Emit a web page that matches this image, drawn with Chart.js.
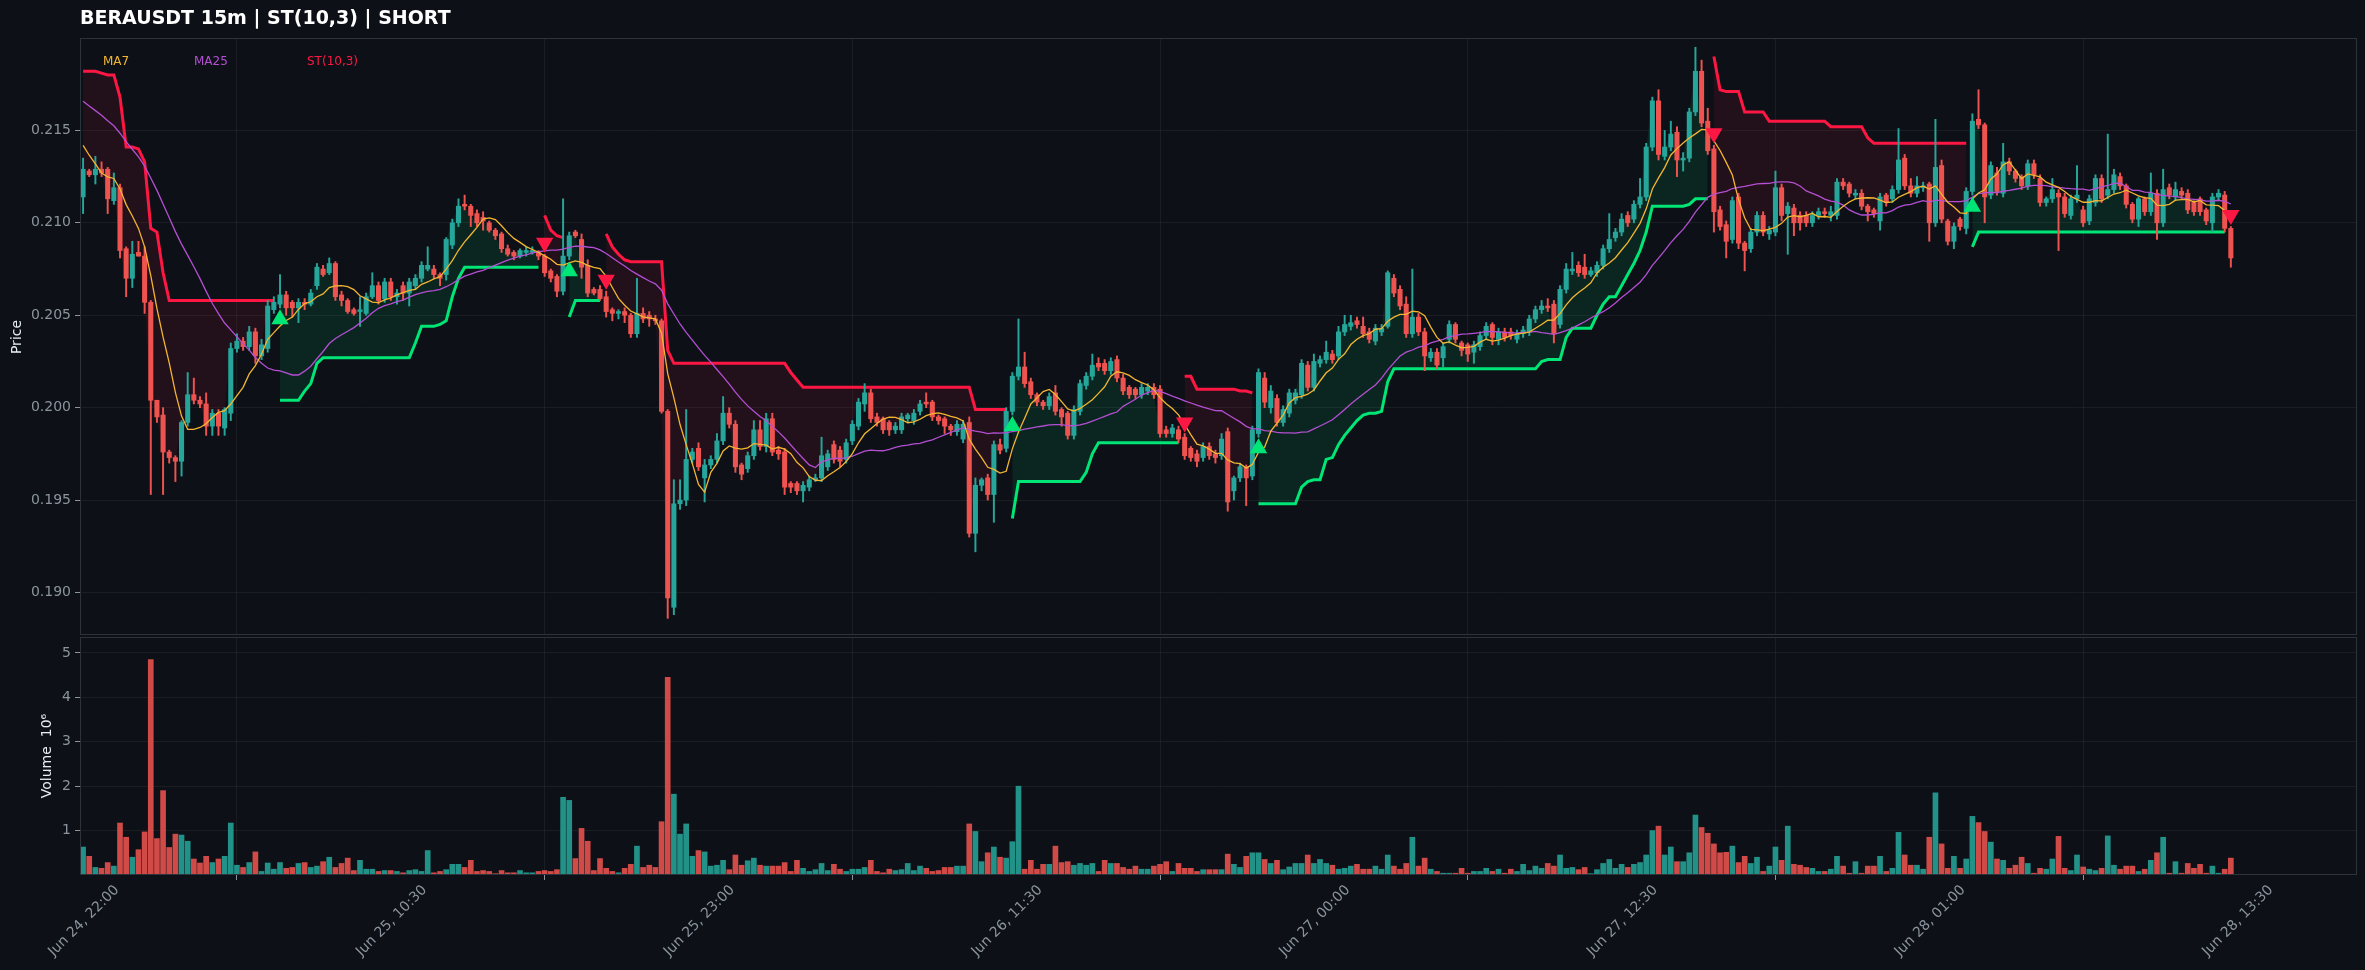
<!DOCTYPE html>
<html>
<head>
<meta charset="utf-8">
<script src="https://cdn.jsdelivr.net/npm/chart.js@4.4.0/dist/chart.umd.min.js"></script>
<style>
  html, body { margin: 0; padding: 0; background: #0d1117; }
  #wrap { position: relative; width: 2365px; height: 970px; background: #0d1117; }
  #priceChart { position: absolute; left: 0; top: 0; }
  #volChart { position: absolute; left: 0; top: 636px; }
</style>
</head>
<body>
<div id="wrap">
  <canvas id="priceChart" width="2365" height="636"></canvas>
  <canvas id="volChart" width="2365" height="334"></canvas>
</div>
<script>
// BERAUSDT 15m candles, Jun 24 22:00 -> Jun 28 13:15 (350 bars)
// prices are written in units of 0.0001 USDT
const xTickLabels = ["Jun 24, 22:00", "Jun 25, 10:30", "Jun 25, 23:00", "Jun 26, 11:30",
                     "Jun 27, 00:00", "Jun 27, 12:30", "Jun 28, 01:00", "Jun 28, 13:30"];
const xTickStep = 50;
const priceTicks = [0.190, 0.195, 0.200, 0.205, 0.210, 0.215];
const volumeTicks = [1, 2, 3, 4, 5];

const openRaw = [
  2114,2128,2126,2129,2129,2112,2119,2086,2070,2084, 2082,2057,2004,1996,1976,1973,1971,1992,2007,2004,
  2002,1990,1997,1989,1997,2032,2036,2033,2041,2028, 2032,2053,2056,2061,2057,2054,2057,2056,2066,2075,
  2073,2078,2061,2058,2053,2052,2051,2060,2066,2059, 2068,2060,2066,2062,2066,2070,2075,2075,2072,2072,
  2088,2100,2110,2109,2105,2103,2100,2096,2094,2086, 2084,2082,2084,2084,2084,2082,2074,2071,2063,2082,
  2095,2091,2077,2064,2064,2060,2053,2051,2052,2050, 2040,2051,2050,2048,2047,1998,1892,1948,1950,1972,
  1978,1962,1969,1972,1982,1997,1991,1969,1967,1974, 1988,1979,1994,1977,1976,1959,1959,1955,1957,1961,
  1962,1968,1980,1977,1972,1982,1990,2002,2008,1995, 1994,1992,1988,1988,1994,1993,1998,2003,2003,1995,
  1994,1990,1987,1983,1992,1932,1958,1962,1953,1980, 1978,1998,2017,2022,2014,2007,2003,2001,2008,1999,
  1997,1985,1998,2012,2017,2024,2024,2020,2026,2016, 2011,2010,2007,2009,2011,2010,1988,1986,1988,1984,
  1978,1975,1973,1979,1975,1974,1987,1955,1962,1968, 1963,1986,2016,2000,2005,1992,1997,2004,2007,2023,
  2011,2024,2026,2029,2028,2041,2044,2047,2044,2041, 2036,2041,2044,2070,2064,2056,2040,2049,2041,2027,
  2030,2027,2037,2045,2035,2034,2030,2033,2039,2045, 2037,2041,2041,2037,2040,2041,2048,2053,2055,2056,
  2045,2064,2074,2077,2076,2072,2073,2077,2086,2092, 2095,2104,2102,2110,2114,2141,2166,2136,2141,2149,
  2134,2135,2160,2182,2155,2140,2107,2099,2091,2114, 2089,2086,2095,2104,2094,2095,2119,2105,2108,2104,
  2104,2100,2104,2106,2104,2104,2122,2121,2115,2116, 2109,2107,2101,2115,2113,2118,2135,2120,2116,2119,
  2121,2100,2131,2101,2090,2102,2097,2117,2156,2153, 2115,2127,2116,2133,2128,2125,2120,2132,2124,2111,
  2113,2116,2114,2104,2113,2107,2101,2111,2124,2115, 2118,2125,2120,2110,2102,2113,2106,2116,2100,2119,
  2114,2117,2116,2111,2113,2107,2100,2114,2115,2097
];
const highRaw = [
  2135,2129,2136,2133,2130,2127,2121,2087,2090,2090, 2087,2058,2004,2000,1977,1974,1993,2019,2016,2006,
  2008,1999,1999,2000,2035,2040,2038,2044,2043,2037, 2058,2060,2072,2063,2058,2059,2059,2064,2078,2077,
  2081,2079,2063,2059,2054,2060,2062,2073,2068,2070, 2070,2064,2068,2070,2072,2079,2087,2077,2073,2092,
  2102,2113,2115,2110,2107,2106,2101,2097,2095,2088, 2085,2086,2087,2087,2085,2083,2075,2072,2113,2095,
  2096,2094,2080,2065,2066,2063,2054,2053,2054,2051, 2070,2054,2052,2050,2048,1999,1961,1961,1999,1978,
  1981,1972,1974,1986,2006,2000,1993,1970,1976,1993, 1993,1997,1997,1979,1978,1960,1960,1960,1963,1964,
  1984,1977,1982,1979,1983,1993,2005,2013,2010,1997, 1995,1993,1992,1997,1997,1999,2004,2008,2004,1996,
  1995,1991,1993,1993,1995,1962,1962,1964,1982,1983, 2000,2019,2048,2030,2016,2008,2004,2008,2012,2000,
  1998,2001,2015,2019,2029,2027,2026,2027,2028,2018, 2012,2011,2013,2013,2013,2012,1990,1991,1990,1986,
  1979,1977,1981,1981,1977,1986,1989,1963,1970,1969, 1990,2021,2019,2012,2007,2001,2010,2010,2026,2025,
  2029,2028,2036,2031,2044,2050,2050,2049,2049,2043, 2045,2045,2074,2072,2066,2060,2075,2051,2043,2032,
  2032,2035,2047,2046,2036,2035,2036,2041,2046,2046, 2043,2043,2043,2042,2044,2050,2055,2058,2059,2058,
  2066,2078,2084,2079,2083,2076,2079,2088,2105,2097, 2105,2106,2112,2124,2143,2168,2172,2150,2155,2152,
  2138,2162,2195,2188,2162,2142,2109,2101,2114,2116, 2090,2097,2106,2106,2098,2128,2121,2111,2110,2106,
  2106,2106,2108,2108,2109,2124,2124,2122,2118,2118, 2110,2108,2116,2116,2120,2151,2137,2124,2125,2122,
  2122,2156,2134,2102,2100,2103,2119,2159,2172,2154, 2133,2130,2143,2135,2129,2126,2134,2134,2126,2114,
  2124,2118,2116,2115,2131,2109,2115,2126,2126,2148, 2129,2127,2121,2111,2114,2114,2127,2118,2129,2121,
  2122,2119,2118,2112,2114,2108,2116,2118,2117,2098
];
const lowRaw = [
  2105,2125,2121,2125,2105,2110,2081,2060,2065,2082, 2051,1953,1992,1953,1970,1960,1963,1990,2002,2000,
  1985,1985,1985,1985,1993,2030,2031,2031,2024,2026, 2030,2051,2054,2050,2049,2046,2053,2055,2064,2071,
  2072,2058,2055,2051,2050,2044,2050,2059,2056,2057, 2058,2056,2058,2055,2064,2068,2074,2070,2066,2069,
  2086,2098,2107,2098,2098,2096,2095,2091,2084,2082, 2080,2081,2082,2083,2080,2071,2068,2060,2061,2080,
  2092,2070,2060,2061,2058,2049,2047,2048,2046,2038, 2038,2046,2044,2045,1997,1886,1888,1945,1947,1970,
  1966,1949,1967,1970,1980,1989,1965,1961,1965,1972, 1977,1976,1974,1972,1953,1954,1953,1949,1955,1960,
  1960,1966,1970,1968,1970,1980,1988,1998,1992,1990, 1986,1985,1986,1986,1992,1991,1996,2000,1993,1991,
  1986,1985,1985,1981,1930,1922,1955,1950,1938,1975, 1976,1996,2015,2011,2005,2001,1999,1999,1996,1990,
  1983,1983,1996,2010,2015,2020,2018,2018,2014,2007, 2005,2005,2005,2007,2005,1984,1984,1984,1981,1972,
  1971,1968,1971,1972,1970,1972,1944,1950,1960,1947, 1961,1984,2000,1997,1990,1990,1995,2002,2005,2009,
  2009,2022,2024,2024,2026,2039,2042,2043,2038,2035, 2034,2039,2043,2060,2053,2038,2038,2039,2020,2025,
  2021,2022,2035,2035,2028,2025,2024,2031,2037,2034, 2034,2036,2037,2035,2038,2039,2046,2051,2052,2035,
  2043,2062,2072,2071,2070,2071,2071,2075,2084,2090, 2093,2098,2100,2108,2112,2139,2134,2134,2139,2125,
  2128,2133,2158,2152,2137,2095,2096,2081,2089,2086, 2074,2084,2093,2093,2091,2093,2101,2083,2093,2096,
  2098,2098,2102,2103,2101,2102,2118,2114,2113,2107, 2101,2103,2096,2109,2111,2116,2118,2114,2114,2117,
  2090,2098,2100,2088,2086,2096,2094,2115,2151,2100, 2113,2115,2114,2126,2122,2118,2118,2124,2109,2109,
  2111,2085,2103,2102,2111,2098,2099,2109,2111,2113, 2116,2118,2108,2100,2098,2104,2104,2091,2098,2113,
  2112,2113,2105,2104,2104,2099,2095,2112,2095,2076
];
const closeRaw = [
  2129,2126,2129,2127,2113,2119,2085,2070,2083,2082, 2057,2004,1995,1976,1973,1971,1992,2007,2004,2002,
  1990,1997,1990,1999,2032,2036,2033,2041,2028,2034, 2055,2057,2061,2054,2054,2057,2056,2062,2076,2072,
  2078,2060,2058,2052,2051,2053,2060,2066,2058,2068, 2060,2062,2062,2068,2070,2077,2077,2072,2070,2091,
  2100,2109,2109,2104,2100,2101,2096,2093,2086,2083, 2082,2085,2085,2085,2082,2073,2070,2063,2082,2093,
  2093,2076,2062,2062,2059,2052,2051,2052,2050,2040, 2051,2048,2048,2047,1998,1897,1948,1950,1972,1976,
  1968,1969,1972,1982,1997,1991,1968,1964,1974,1988, 1979,1994,1976,1975,1957,1957,1955,1958,1961,1962,
  1974,1975,1972,1971,1981,1991,2003,2008,1994,1992, 1988,1988,1990,1995,1996,1997,2002,2002,1995,1993,
  1990,1988,1991,1991,1932,1958,1961,1953,1980,1977, 1998,2017,2022,2013,2007,2003,2001,2006,1998,1995,
  1985,1999,2013,2017,2023,2022,2020,2025,2016,2009, 2007,2007,2011,2011,2007,1986,1986,1989,1983,1974,
  1973,1971,1979,1974,1973,1983,1949,1962,1968,1962, 1988,2019,2003,2009,1992,1999,2008,2008,2024,2011,
  2025,2026,2030,2026,2041,2045,2046,2045,2040,2037, 2043,2043,2073,2062,2055,2040,2049,2041,2028,2030,
  2023,2033,2045,2037,2031,2029,2034,2039,2044,2038, 2041,2038,2039,2040,2042,2048,2053,2055,2054,2040,
  2064,2075,2075,2073,2072,2074,2077,2086,2091,2095, 2102,2100,2110,2114,2141,2166,2137,2141,2148,2134,
  2135,2160,2182,2154,2139,2106,2098,2090,2112,2089, 2085,2095,2104,2095,2096,2119,2104,2109,2100,2100,
  2100,2104,2106,2105,2106,2122,2120,2116,2116,2109, 2106,2105,2114,2111,2118,2134,2120,2116,2120,2120,
  2100,2130,2102,2090,2098,2098,2117,2155,2153,2114, 2131,2117,2133,2128,2124,2120,2132,2126,2111,2113,
  2118,2114,2105,2113,2115,2100,2113,2124,2113,2118, 2126,2120,2110,2102,2113,2106,2116,2100,2118,2115,
  2118,2115,2107,2106,2106,2101,2114,2116,2097,2081
];
// volume, millions
const volumes = [
  0.63,0.42,0.17,0.15,0.28,0.2,1.17,0.85,0.4,0.57, 0.97,4.85,0.82,1.9,0.62,0.92,0.9,0.76,0.36,0.27,
  0.42,0.28,0.36,0.42,1.17,0.22,0.17,0.28,0.52,0.08, 0.27,0.13,0.28,0.15,0.17,0.26,0.28,0.17,0.2,0.3,
  0.4,0.17,0.26,0.38,0.1,0.33,0.13,0.13,0.08,0.1, 0.1,0.08,0.05,0.1,0.12,0.08,0.55,0.05,0.08,0.12,
  0.24,0.24,0.17,0.33,0.08,0.1,0.08,0.03,0.1,0.05, 0.05,0.1,0.05,0.05,0.08,0.1,0.08,0.12,1.75,1.68,
  0.37,1.05,0.76,0.1,0.37,0.15,0.08,0.05,0.15,0.24, 0.65,0.17,0.22,0.17,1.2,4.45,1.82,0.92,1.15,0.42,
  0.55,0.52,0.2,0.22,0.33,0.12,0.45,0.22,0.32,0.38, 0.22,0.2,0.2,0.2,0.28,0.08,0.33,0.15,0.08,0.12,
  0.26,0.1,0.24,0.13,0.08,0.13,0.13,0.17,0.33,0.08, 0.05,0.13,0.1,0.12,0.26,0.1,0.2,0.15,0.08,0.1,
  0.17,0.17,0.2,0.2,1.15,0.98,0.3,0.5,0.63,0.4, 0.38,0.75,2.0,0.13,0.33,0.13,0.24,0.24,0.65,0.28,
  0.3,0.22,0.26,0.22,0.26,0.08,0.33,0.26,0.26,0.17, 0.13,0.2,0.13,0.13,0.2,0.24,0.3,0.08,0.26,0.15,
  0.15,0.08,0.12,0.12,0.12,0.12,0.47,0.24,0.17,0.42, 0.5,0.5,0.35,0.26,0.33,0.12,0.18,0.26,0.26,0.45,
  0.26,0.35,0.26,0.22,0.13,0.15,0.2,0.24,0.13,0.13, 0.2,0.13,0.45,0.2,0.13,0.26,0.85,0.2,0.38,0.13,
  0.08,0.04,0.04,0.04,0.15,0.04,0.08,0.08,0.15,0.08, 0.13,0.04,0.13,0.08,0.24,0.1,0.2,0.15,0.26,0.2,
  0.45,0.15,0.17,0.12,0.17,0.03,0.12,0.26,0.35,0.15, 0.24,0.17,0.24,0.28,0.45,1.0,1.1,0.45,0.63,0.3,
  0.3,0.5,1.35,1.07,0.94,0.7,0.5,0.51,0.65,0.28, 0.42,0.26,0.4,0.08,0.2,0.63,0.33,1.1,0.24,0.22,
  0.17,0.15,0.08,0.08,0.13,0.42,0.2,0.04,0.3,0.04, 0.2,0.2,0.42,0.08,0.15,0.96,0.45,0.22,0.22,0.13,
  0.85,1.85,0.7,0.15,0.42,0.15,0.36,1.32,1.18,0.98, 0.74,0.36,0.33,0.15,0.22,0.4,0.26,0.04,0.15,0.13,
  0.36,0.87,0.15,0.1,0.45,0.18,0.13,0.1,0.15,0.88, 0.22,0.13,0.2,0.2,0.08,0.13,0.33,0.5,0.85,0.04,
  0.3,0.04,0.26,0.15,0.24,0.04,0.2,0.04,0.13,0.38
];
// SuperTrend(10,3) level per bar (same 0.0001 units)
const stRaw = [
  2182,2182,2182,2181,2180,2180,2168,2141,2141,2140, 2133,2097,2095,2073,2058,2058,2058,2058,2058,2058,
  2058,2058,2058,2058,2058,2058,2058,2058,2058,2058, 2058,2058,2004,2004,2004,2004,2009,2013,2024,2027,
  2027,2027,2027,2027,2027,2027,2027,2027,2027,2027, 2027,2027,2027,2027,2035,2044,2044,2044,2045,2047,
  2060,2070,2076,2076,2076,2076,2076,2076,2076,2076, 2076,2076,2076,2076,2076,2104,2096,2093,2092,2049,
  2058,2058,2058,2058,2058,2094,2087,2083,2080,2079, 2079,2079,2079,2079,2079,2031,2024,2024,2024,2024,
  2024,2024,2024,2024,2024,2024,2024,2024,2024,2024, 2024,2024,2024,2024,2024,2019,2015,2011,2011,2011,
  2011,2011,2011,2011,2011,2011,2011,2011,2011,2011, 2011,2011,2011,2011,2011,2011,2011,2011,2011,2011,
  2011,2011,2011,2011,2011,1999,1999,1999,1999,1999, 1999,1940,1960,1960,1960,1960,1960,1960,1960,1960,
  1960,1960,1960,1965,1975,1981,1981,1981,1981,1981, 1981,1981,1981,1981,1981,1981,1981,1981,1981,2017,
  2017,2010,2010,2010,2010,2010,2010,2010,2009,2009, 2008,1948,1948,1948,1948,1948,1948,1948,1957,1960,
  1961,1961,1972,1973,1980,1985,1989,1993,1996,1997, 1997,1998,2014,2021,2021,2021,2021,2021,2021,2021,
  2021,2021,2021,2021,2021,2021,2021,2021,2021,2021, 2021,2021,2021,2021,2021,2021,2021,2025,2026,2026,
  2026,2038,2043,2043,2043,2043,2050,2056,2060,2060, 2066,2072,2078,2085,2095,2109,2109,2109,2109,2109,
  2109,2110,2113,2113,2113,2190,2172,2171,2171,2171, 2160,2160,2160,2160,2155,2155,2155,2155,2155,2155,
  2155,2155,2155,2155,2152,2152,2152,2152,2152,2152, 2146,2143,2143,2143,2143,2143,2143,2143,2143,2143,
  2143,2143,2143,2143,2143,2143,2143,2087,2095,2095, 2095,2095,2095,2095,2095,2095,2095,2095,2095,2095,
  2095,2095,2095,2095,2095,2095,2095,2095,2095,2095, 2095,2095,2095,2095,2095,2095,2095,2095,2095,2095,
  2095,2095,2095,2095,2095,2095,2095,2095,2095,2120
];
// bars where the SuperTrend flips (the triangle markers)
const buyBars = [32, 79, 151, 191, 307];
const sellBars = [75, 85, 179, 265, 349];
// closes before the first bar, back-read from where MA7 / MA25 enter the frame
const closesBeforeRaw = [2192,2190,2189,2188,2187,2186,2185,2185,2184,2183,
                         2165,2162,2160,2158,2160,2161,2160,2157,2163,2162,2161,2128,2125,2125];

const P = 10000;
const opens = openRaw.map(v => v / P);
const highs = highRaw.map(v => v / P);
const lows = lowRaw.map(v => v / P);
const closes = closeRaw.map(v => v / P);
const stLevels = stRaw.map(v => v / P);
const closesBefore = closesBeforeRaw.map(v => v / P);

const UP = "#26a69a", DOWN = "#ef5350";
const ST_RED = "#ff1744", ST_GREEN = "#00e676";
const MA7_COLOR = "#f2b632", MA25_COLOR = "#b44fd3";
const GRID = "rgba(255,255,255,0.055)";
const TICK_TEXT = "#8b949e";
const SPINE = "#2d333b";
const FONT = "'DejaVu Sans', sans-serif";

const n = closes.length;

function sma(period) {
  const all = closesBefore.concat(closes);
  const off = closesBefore.length;
  return closes.map((_, i) => {
    const end = i + off;
    const start = Math.max(0, end - period + 1);
    let s = 0;
    for (let k = start; k <= end; k++) s += all[k];
    return s / (end - start + 1);
  });
}

const ma7 = sma(7);
const ma25 = sma(25);

// trend direction per bar from the flip bars (starts short)
const trend = [];
for (let i = 0, d = -1; i < n; i++) {
  if (buyBars.includes(i)) d = 1;
  if (sellBars.includes(i)) d = -1;
  trend.push(d);
}

const pts = arr => arr.map((v, i) => ({ x: i, y: v }));
const candleColors = closes.map((c, i) => (c >= opens[i] ? UP : DOWN));

const stLong = trend.map((d, i) => ({ x: i, y: d === 1 ? stLevels[i] : null }));
const stShort = trend.map((d, i) => ({ x: i, y: d === -1 ? stLevels[i] : null }));
const buys = buyBars.map(i => ({ x: i, y: lows[i] * 0.997 }));
const sells = sellBars.map(i => ({ x: i, y: highs[i] * 1.003 }));

const xRange = { min: -0.5, max: 369.5 };
function setXTicks(scale) {
  scale.ticks = xTickLabels.map((_, k) => ({ value: k * xTickStep }));
}
// tick labels must not push the plot area inwards
function noLabelPadding(scale) {
  scale.paddingTop = 0;
  scale.paddingBottom = 0;
  scale.paddingLeft = 0;
  scale.paddingRight = 0;
}

// frame around the plot area + free text
function framePlugin(texts) {
  return {
    id: "frame",
    afterDraw(chart) {
      const { ctx, chartArea: a } = chart;
      ctx.save();
      ctx.strokeStyle = SPINE;
      ctx.lineWidth = 1;
      ctx.strokeRect(a.left + 0.5, a.top + 0.5, a.right - a.left - 1, a.bottom - a.top - 1);
      texts.forEach(t => {
        ctx.save();
        ctx.font = t.font;
        ctx.fillStyle = t.color;
        ctx.textAlign = t.align || "left";
        ctx.textBaseline = "middle";
        ctx.translate(t.x, t.y);
        if (t.rotate) ctx.rotate(t.rotate);
        ctx.fillText(t.text, 0, 0);
        ctx.restore();
      });
      ctx.restore();
    }
  };
}

Chart.defaults.font.family = FONT;
Chart.defaults.animation = false;

new Chart(document.getElementById("priceChart"), {
  type: "bar",
  data: {
    datasets: [
      { type: "line", label: "close", data: pts(closes), borderWidth: 0, borderColor: "transparent",
        pointRadius: 0, fill: false, order: 20 },
      { type: "line", label: "ST short", data: stShort, borderColor: ST_RED, borderWidth: 3,
        pointRadius: 0, spanGaps: false, order: 9,
        fill: { target: 0, above: "rgba(255,23,68,0.09)", below: "rgba(255,23,68,0.09)" } },
      { type: "line", label: "ST long", data: stLong, borderColor: ST_GREEN, borderWidth: 3,
        pointRadius: 0, spanGaps: false, order: 9,
        fill: { target: 0, above: "rgba(0,230,118,0.1)", below: "rgba(0,230,118,0.1)" } },
      { label: "wick", data: closes.map((_, i) => ({ x: i, y: [lows[i], highs[i]] })),
        backgroundColor: candleColors, barThickness: 1.3, grouped: false, order: 7 },
      { label: "body", data: closes.map((c, i) => ({ x: i, y: [Math.min(opens[i], c), Math.max(opens[i], c)] })),
        backgroundColor: candleColors, barThickness: 4.4, minBarLength: 1.5, grouped: false, order: 6 },
      { type: "line", label: "MA25", data: pts(ma25), borderColor: MA25_COLOR, borderWidth: 1.3,
        pointRadius: 0, fill: false, order: 5 },
      { type: "line", label: "MA7", data: pts(ma7), borderColor: MA7_COLOR, borderWidth: 1.3,
        pointRadius: 0, fill: false, order: 4 },
      { type: "line", label: "sell", data: sells, showLine: false, pointStyle: "triangle",
        pointRotation: 180, pointRadius: 10, backgroundColor: ST_RED, borderWidth: 0, order: 1 },
      { type: "line", label: "buy", data: buys, showLine: false, pointStyle: "triangle",
        pointRadius: 10, backgroundColor: ST_GREEN, borderWidth: 0, order: 1 }
    ]
  },
  options: {
    responsive: false,
    devicePixelRatio: 1,
    layout: { autoPadding: false, padding: { top: 38, right: 8, left: 0, bottom: 1 } },
    plugins: { legend: { display: false }, tooltip: { enabled: false } },
    scales: {
      x: {
        type: "linear", min: xRange.min, max: xRange.max, offset: false,
        afterBuildTicks: setXTicks,
        ticks: { display: false },
        grid: { color: GRID, drawTicks: false },
        border: { display: false },
        afterFit: s => { s.height = 0; noLabelPadding(s); }
      },
      y: {
        min: 0.1877, max: 0.2200,
        afterBuildTicks: s => { s.ticks = priceTicks.map(v => ({ value: v })); },
        ticks: { color: TICK_TEXT, font: { size: 14 }, padding: 4, callback: v => v.toFixed(3) },
        grid: { color: GRID, tickColor: TICK_TEXT, tickLength: 5 },
        border: { display: false },
        afterFit: s => { s.width = 80; noLabelPadding(s); }
      }
    }
  },
  plugins: [framePlugin([
    { text: "BERAUSDT 15m | ST(10,3) | SHORT", x: 80, y: 19, font: "bold 19px " + FONT, color: "#ffffff" },
    { text: "MA7", x: 103, y: 62, font: "12px " + FONT, color: MA7_COLOR },
    { text: "MA25", x: 194, y: 62, font: "12px " + FONT, color: MA25_COLOR },
    { text: "ST(10,3)", x: 307, y: 62, font: "12px " + FONT, color: ST_RED },
    { text: "Price", x: 17, y: 337, font: "14px " + FONT, color: "#e6edf3", align: "center", rotate: -Math.PI / 2 }
  ])]
});

new Chart(document.getElementById("volChart"), {
  type: "bar",
  data: {
    datasets: [
      { label: "Volume", data: volumes.map((v, i) => ({ x: i, y: v })),
        backgroundColor: candleColors.map(c => c + "dd"), barThickness: 5, grouped: false }
    ]
  },
  options: {
    responsive: false,
    devicePixelRatio: 1,
    layout: { autoPadding: false, padding: { top: 1, right: 8, left: 0, bottom: 0 } },
    plugins: { legend: { display: false }, tooltip: { enabled: false } },
    scales: {
      x: {
        type: "linear", min: xRange.min, max: xRange.max, offset: false,
        afterBuildTicks: setXTicks,
        ticks: { color: TICK_TEXT, font: { size: 14 }, minRotation: 45, maxRotation: 45, autoSkip: false,
                 labelOffset: 34, padding: 2,
                 callback: v => xTickLabels[Math.round(v / xTickStep)] },
        grid: { color: GRID, tickColor: TICK_TEXT, tickLength: 5 },
        border: { display: false },
        afterFit: s => { s.height = 95; noLabelPadding(s); }
      },
      y: {
        min: 0, max: 5.36,
        afterBuildTicks: s => { s.ticks = volumeTicks.map(v => ({ value: v })); },
        ticks: { color: TICK_TEXT, font: { size: 14 }, padding: 4, callback: v => String(v) },
        grid: { color: GRID, tickColor: TICK_TEXT, tickLength: 5 },
        border: { display: false },
        afterFit: s => { s.width = 80; noLabelPadding(s); }
      }
    }
  },
  plugins: [framePlugin([
    { text: "Volume  10\u2076", x: 47, y: 120, font: "14px " + FONT, color: "#e6edf3", align: "center", rotate: -Math.PI / 2 }
  ])]
});
</script>
</body>
</html>
